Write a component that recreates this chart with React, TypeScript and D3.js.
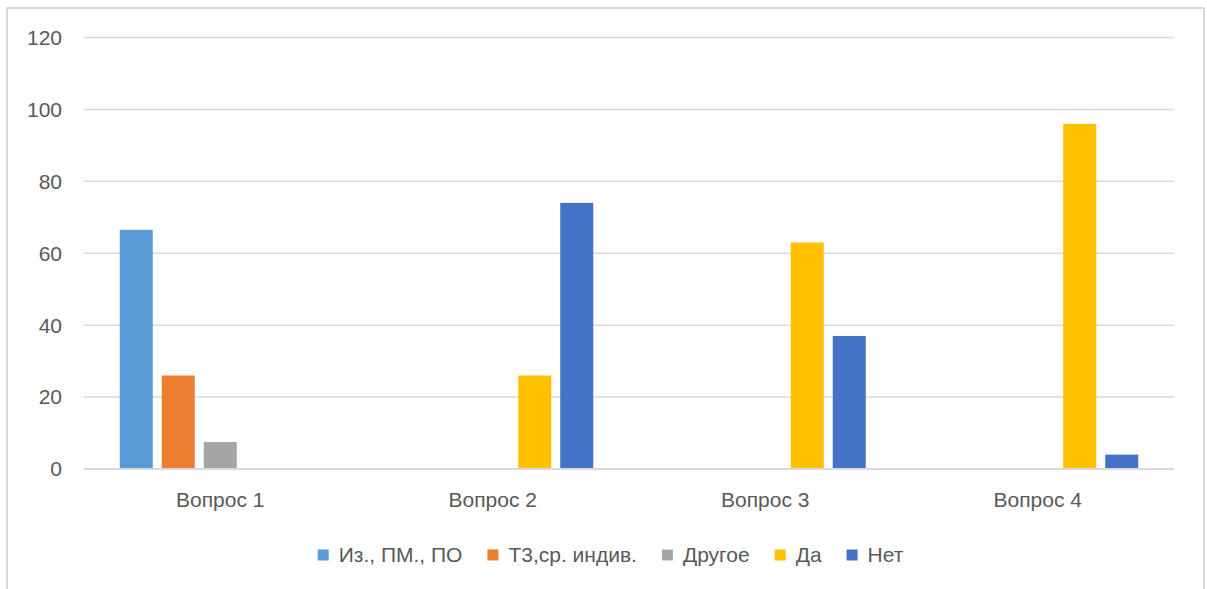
import React, { useRef, useEffect } from 'react';
import * as d3 from 'd3';

const categories = ['Вопрос 1', 'Вопрос 2', 'Вопрос 3', 'Вопрос 4'];
const seriesNames = ['Из., ПМ., ПО', 'Т3,ср. индив.', 'Другое', 'Да', 'Нет'];
const seriesColors = ['#5B9BD5', '#ED7D31', '#A5A5A5', '#FFC000', '#4472C4'];
const izPmPo = [66.5, 0, 0, 0];
const tzInd = [26, 0, 0, 0];
const other = [7.5, 0, 0, 0];
const yes = [0, 26, 63, 96];
const no = [0, 74, 37, 4];
const seriesValues = [izPmPo, tzInd, other, yes, no];
const yTicks = [0, 20, 40, 60, 80, 100, 120];

const W = 1207;
const H = 589;
const FONT = '"Liberation Sans", Arial, sans-serif';

export default function App(): React.ReactElement {
  const svgRef = useRef<SVGSVGElement>(null);

  useEffect(() => {
    if (!svgRef.current) return;
    const svg = d3.select(svgRef.current);
    svg.selectAll('*').remove();

    // chart frame
    svg.append('rect')
      .attr('x', 0).attr('y', 0).attr('width', W).attr('height', H)
      .attr('fill', '#ffffff');
    svg.append('rect')
      .attr('x', 7).attr('y', 8).attr('width', 1197).attr('height', H + 10)
      .attr('fill', 'none')
      .attr('stroke', '#d9d9d9')
      .attr('stroke-width', 2);

    const plot = { left: 84, right: 1174, top: 37.5, bottom: 469 };

    const x = d3.scaleBand<string>()
      .domain(categories)
      .range([plot.left, plot.right])
      .paddingInner(0)
      .paddingOuter(0);

    const bw = x.bandwidth();
    const xs = d3.scaleBand<string>()
      .domain(seriesNames)
      .range([bw * 0.1312, bw * (1 - 0.1312)])
      .paddingInner(0.214)
      .paddingOuter(0);

    const y = d3.scaleLinear().domain([0, 120]).range([plot.bottom, plot.top]);

    // gridlines
    svg.append('g')
      .selectAll('line')
      .data(yTicks)
      .join('line')
      .attr('x1', plot.left)
      .attr('x2', plot.right)
      .attr('y1', (d) => y(d))
      .attr('y2', (d) => y(d))
      .attr('stroke', '#d9d9d9')
      .attr('stroke-width', 1.5);

    // y tick labels
    svg.append('g')
      .selectAll('text')
      .data(yTicks)
      .join('text')
      .attr('x', 62)
      .attr('y', (d) => y(d))
      .attr('dy', '0.35em')
      .attr('text-anchor', 'end')
      .attr('font-family', FONT)
      .attr('font-size', '21px')
      .attr('fill', '#595959')
      .text((d) => d);

    // bars
    const groups = svg.append('g')
      .selectAll('g')
      .data(categories)
      .join('g')
      .attr('transform', (d) => `translate(${x(d)},0)`);

    groups.selectAll('rect')
      .data((_, i) => seriesNames.map((s, k) => ({ s, k, v: seriesValues[k][i] })))
      .join('rect')
      .filter((d) => d.v > 0)
      .attr('x', (d) => xs(d.s) as number)
      .attr('width', xs.bandwidth())
      .attr('y', (d) => y(d.v))
      .attr('height', (d) => y(0) - y(d.v))
      .attr('fill', (d) => seriesColors[d.k]);

    // axis baseline
    svg.append('line')
      .attr('x1', plot.left)
      .attr('x2', plot.right)
      .attr('y1', y(0))
      .attr('y2', y(0))
      .attr('stroke', '#d9d9d9')
      .attr('stroke-width', 2);

    // category labels
    svg.append('g')
      .selectAll('text')
      .data(categories)
      .join('text')
      .attr('x', (d) => (x(d) as number) + bw / 2)
      .attr('y', 500)
      .attr('dy', '0.35em')
      .attr('text-anchor', 'middle')
      .attr('font-family', FONT)
      .attr('font-size', '21px')
      .attr('fill', '#595959')
      .text((d) => d);

    // legend, laid out from measured text widths
    const legend = svg.append('g');
    const legendY = 555;
    const marker = 11;
    const textGap = 10;
    const itemGap = 25;
    const items = seriesNames.map((name, k) => {
      const g = legend.append('g');
      g.append('rect')
        .attr('width', marker)
        .attr('height', marker)
        .attr('y', legendY - marker / 2)
        .attr('fill', seriesColors[k]);
      const t = g.append('text')
        .attr('x', marker + textGap)
        .attr('y', legendY)
        .attr('dy', '0.35em')
        .attr('font-family', FONT)
        .attr('font-size', '21px')
        .attr('fill', '#595959')
        .text(name);
      const w = (t.node() as SVGTextElement).getComputedTextLength();
      return { g, width: marker + textGap + w };
    });
    const total = d3.sum(items, (d) => d.width) + itemGap * (items.length - 1);
    let cx = 610.5 - total / 2;
    items.forEach((it) => {
      it.g.attr('transform', `translate(${cx},0)`);
      cx += it.width + itemGap;
    });
  }, []);

  return (
    <svg
      ref={svgRef}
      width={W}
      height={H}
      style={{ position: 'absolute', left: 0, top: 0, display: 'block' }}
    />
  );
}
